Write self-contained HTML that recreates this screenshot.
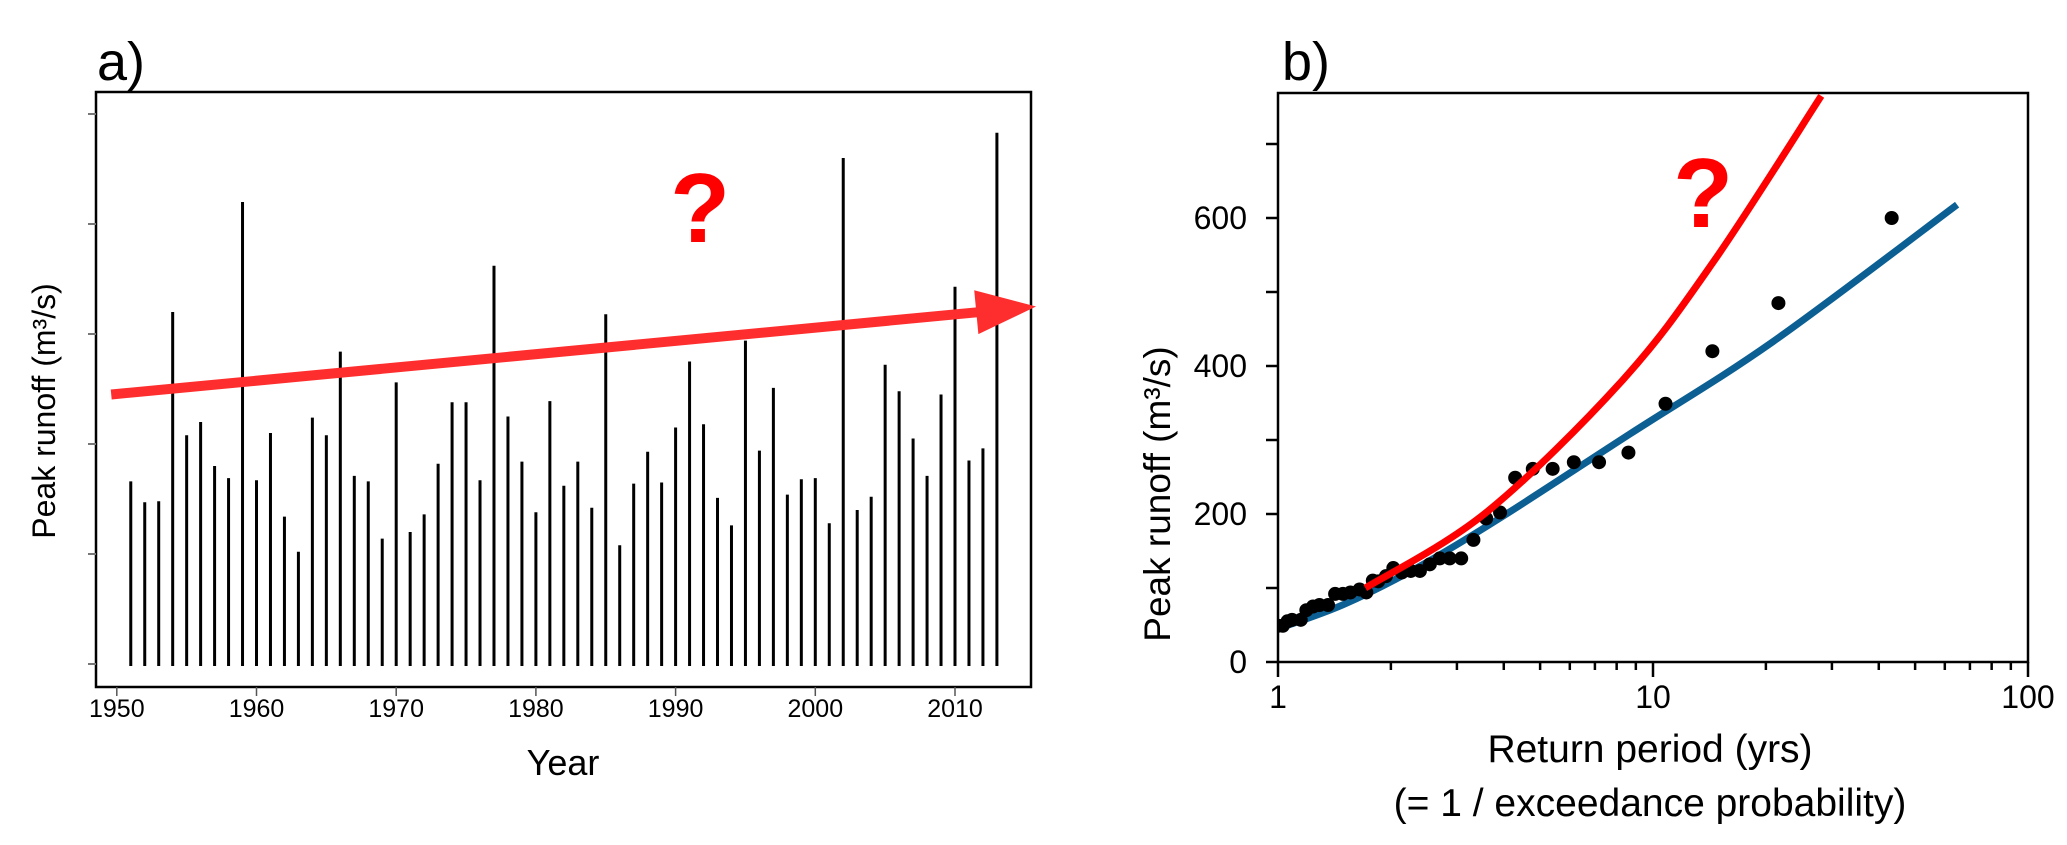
<!DOCTYPE html>
<html><head><meta charset="utf-8"><title>Peak runoff charts</title>
<style>
html,body{margin:0;padding:0;background:#fff;}
svg{display:block;}
text{font-family:"Liberation Sans",Arial,sans-serif;fill:#000;}
</style></head>
<body>
<svg id="fig" width="2067" height="845" viewBox="0 0 2067 845" xmlns="http://www.w3.org/2000/svg">
  <g id="pa"></g>
  <g id="pb"></g>
</svg>
<script>
// ---- Panel a data ----
const years = [];
for (let y = 1951; y <= 2013; y++) years.push(y);
const peaks = [166,147,148,320,208,220,180,169,420,167,210,134,102,224,208,284,171,166,114,256,
  120,136,182,238,238,167,362,225,184,138,239,162,184,142,318,108,164,193,165,215,
  275,218,151,126,294,194,251,154,168,169,128,460,140,152,272,248,205,171,245,343,185,196,483];
const yearTicks = [1950,1960,1970,1980,1990,2000,2010];
const aYTicks = [0,100,200,300,400,500];
const trendStart = [1949.6, 245];
const trendEnd = [2015.8, 325];

// ---- Panel b data ----
const returnPeriods = [43.3,21.6,14.4,10.8,8.6,7.18,6.15,5.4,4.78,4.29,3.91,3.59,3.32,3.08,2.87,2.70,2.54,2.39,2.26,2.14,2.03,1.94,1.85,1.79,1.72,1.65,1.56,1.49,1.42,1.36,1.29,1.24,1.19,1.15,1.09,1.06,1.03,1.0];
const peakValues = [600,485,420,349,283,270,270,261,261,249,202,194,165,140,140,140,132,123,123,121,127,116,109,110,94,98,94,92,92,77,77,75,70,57,57,55,49,49];
const blueT = [1,1.5,2.4,3.95,8.67,20.9,64.7];
const blueQ = [45,78,130,196,308,433,618];
const redT = [1.71,3.59,8.27,14.5,28.1];
const redQ = [100,202,380,541,765];
const bXTicksMajor = [1,10,100];
const bYTicksMajor = [0,200,400,600];
const bYTicksMinor = [100,300,500,700];

const NS = "http://www.w3.org/2000/svg";
function mk(parent, tag, attrs, txt){
  const e = document.createElementNS(NS, tag);
  for (const k in attrs) e.setAttribute(k, attrs[k]);
  if (txt !== undefined) e.textContent = txt;
  parent.appendChild(e);
  return e;
}
function spline(pts){
  let d = "M" + pts[0][0] + "," + pts[0][1];
  for (let i = 0; i < pts.length - 1; i++){
    const p0 = pts[Math.max(0,i-1)], p1 = pts[i], p2 = pts[i+1], p3 = pts[Math.min(pts.length-1,i+2)];
    const c1x = p1[0] + (p2[0]-p0[0])/6, c1y = p1[1] + (p2[1]-p0[1])/6;
    const c2x = p2[0] - (p3[0]-p1[0])/6, c2y = p2[1] - (p3[1]-p1[1])/6;
    d += " C" + c1x + "," + c1y + " " + c2x + "," + c2y + " " + p2[0] + "," + p2[1];
  }
  return d;
}

// ---- Panel a ----
const pa = document.getElementById('pa');
const aL = 96, aT = 92, aR = 1031, aB = 687;
const ax = y => 116.8 + (y - 1950) * 13.97;
const ay = v => 664 - v * 1.1;

let t = mk(pa, 'text', {x:97, y:80, 'font-size':54});
t.textContent = 'a)';



let fr = mk(pa, 'rect', {x:aL, y:aT, width:aR-aL, height:aB-aT, fill:'none', stroke:'#000', 'stroke-width':2.5});



aYTicks.forEach(v => {
  const l = mk(pa, 'line', {x1:88, x2:aL, y1:ay(v), y2:ay(v), stroke:'#777', 'stroke-width':2});
  
  
});
yearTicks.forEach(y => {
  const l = mk(pa, 'line', {x1:ax(y), x2:ax(y), y1:aB, y2:aB+9, stroke:'#555', 'stroke-width':1.5});
  
  
  const tx = mk(pa, 'text', {x:ax(y), y:717, 'font-size':25, 'text-anchor':'middle', 'font-family':'"Liberation Sans Narrow","Liberation Sans",sans-serif'}, String(y));
  
  
});
years.forEach((y, i) => {
  const b = mk(pa, 'line', {x1:ax(y), x2:ax(y), y1:ay(0)+2, y2:ay(peaks[i]), stroke:'#000', 'stroke-width':3});
  
  
});
// trend arrow
{
  const x1 = ax(trendStart[0]), y1 = ay(trendStart[1]), x2 = ax(trendEnd[0]), y2 = ay(trendEnd[1]);
  const ang = Math.atan2(y2-y1, x2-x1), hl = 60, hw = 22;
  const bx = x2 - hl*Math.cos(ang), by = y2 - hl*Math.sin(ang);
  const ln = mk(pa, 'line', {x1:x1, y1:y1, x2:bx+2, y2:by, stroke:'#ff2e2e', 'stroke-width':10});
  
  
  const px = -Math.sin(ang), py = Math.cos(ang);
  const hd = mk(pa, 'polygon', {points: x2+','+y2+' '+(bx+px*hw)+','+(by+py*hw)+' '+(bx-px*hw)+','+(by-py*hw), fill:'#ff2e2e'});
  
  
}
t = mk(pa, 'text', {x:700, y:242, 'font-size':98, 'font-weight':'bold', 'text-anchor':'middle', style:'fill:#f00'}, '?');


t = mk(pa, 'text', {x:563, y:775, 'font-size':36, 'text-anchor':'middle'}, 'Year');


t = mk(pa, 'text', {x:0, y:0, 'font-size':32, 'text-anchor':'middle', transform:'translate(55,411) rotate(-90)'}, 'Peak runoff (m³/s)');



// ---- Panel b ----
const pb = document.getElementById('pb');
const bL = 1278, bT = 93, bR = 2028, bB = 662;
const bx = T => bL + Math.log10(T) * 375;
const by = q => 662 - q * 0.74;

t = mk(pb, 'text', {x:1282, y:80, 'font-size':54});
t.textContent = 'b)';



const defs = mk(pb, 'defs', {});
const cp = mk(defs, 'clipPath', {id:'clipb'});
mk(cp, 'rect', {x:bL, y:bT, width:bR-bL, height:bB-bT});

fr = mk(pb, 'rect', {x:bL, y:bT, width:bR-bL, height:bB-bT, fill:'none', stroke:'#000', 'stroke-width':2.5});



bYTicksMajor.concat(bYTicksMinor).forEach(v => {
  const l = mk(pb, 'line', {x1:bL-12, x2:bL, y1:by(v), y2:by(v), stroke:'#000', 'stroke-width':2.5});
  
  
});
bYTicksMajor.forEach(v => {
  const tx = mk(pb, 'text', {x:1247, y:by(v)+11, 'font-size':32, 'text-anchor':'end', 'font-family':'"Liberation Sans Narrow","Liberation Sans",sans-serif'}, String(v));
  
  
});
for (let d = 1; d < 100; d *= 10){
  for (let m = 2; m <= 9; m++){
    const l = mk(pb, 'line', {x1:bx(d*m), x2:bx(d*m), y1:bB, y2:bB+8, stroke:'#000', 'stroke-width':2.5});
    
    
  }
}
bXTicksMajor.forEach(T => {
  const l = mk(pb, 'line', {x1:bx(T), x2:bx(T), y1:bB, y2:bB+15, stroke:'#000', 'stroke-width':2.5});
  
  
  const tx = mk(pb, 'text', {x:bx(T), y:708, 'font-size':32, 'text-anchor':'middle', 'font-family':'"Liberation Sans Narrow","Liberation Sans",sans-serif'}, String(T));
  
  
});

const gClip = mk(pb, 'g', {'clip-path':'url(#clipb)'});
const blue = mk(gClip, 'path', {d: spline(blueT.map((T,i)=>[bx(T), by(blueQ[i])])), fill:'none', stroke:'#0b5f93', 'stroke-width':7});


returnPeriods.forEach((T, i) => {
  const c = mk(gClip, 'circle', {cx:bx(T), cy:by(peakValues[i]), r:7, fill:'#000'});
  
  
});
const red = mk(gClip, 'path', {d: spline(redT.map((T,i)=>[bx(T), by(redQ[i])])), fill:'none', stroke:'#ff0000', 'stroke-width':7});



t = mk(pb, 'text', {x:1703, y:227, 'font-size':98, 'font-weight':'bold', 'text-anchor':'middle', style:'fill:#f00'}, '?');


t = mk(pb, 'text', {x:1650, y:762, 'font-size':39, 'text-anchor':'middle'}, 'Return period (yrs)');


t = mk(pb, 'text', {x:1650, y:816, 'font-size':39, 'text-anchor':'middle'}, '(= 1 / exceedance probability)');


t = mk(pb, 'text', {x:0, y:0, 'font-size':37, 'text-anchor':'middle', transform:'translate(1170,494) rotate(-90)'}, 'Peak runoff (m³/s)');


</script>
</body></html>
